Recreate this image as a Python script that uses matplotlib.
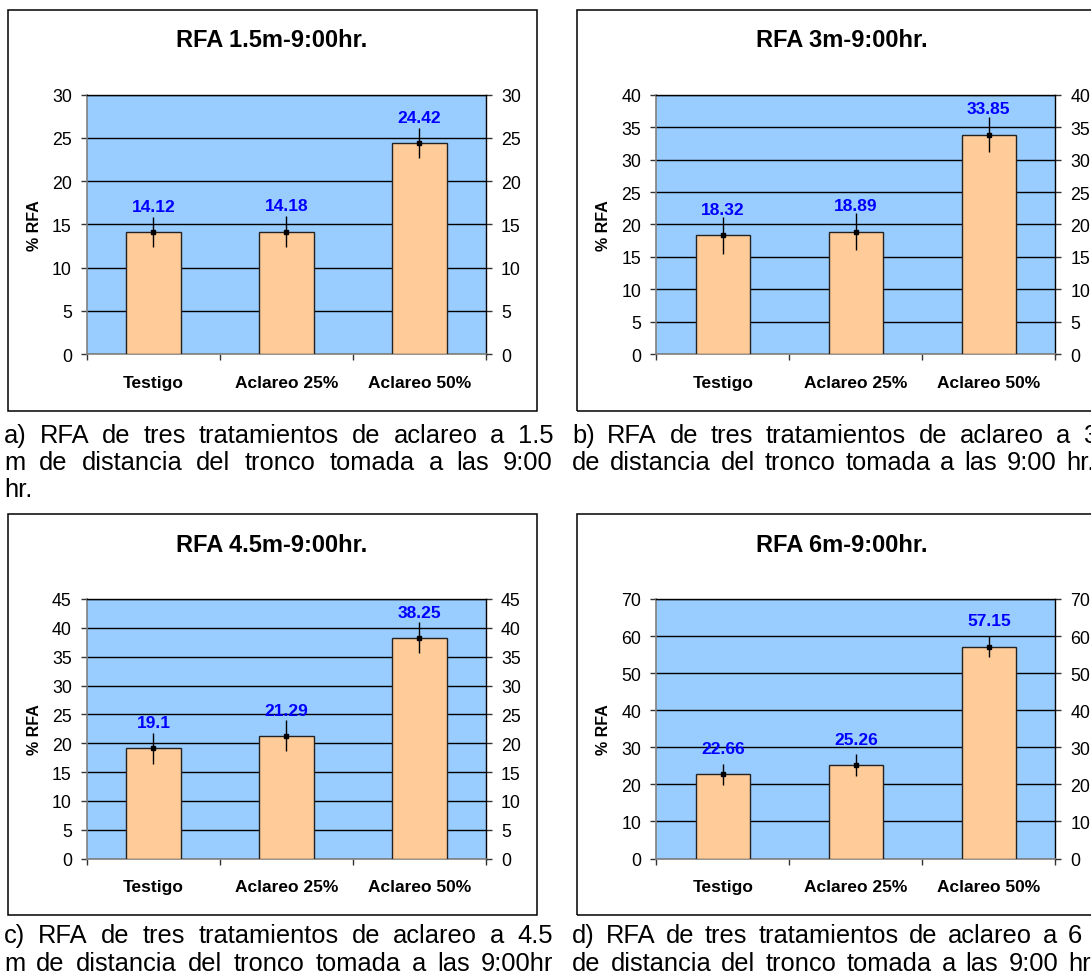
import matplotlib
matplotlib.use("Agg")
import matplotlib.pyplot as plt
from matplotlib.patches import Rectangle
from matplotlib.ticker import MultipleLocator, FixedLocator, NullFormatter

plt.rcParams['font.family'] = ['Liberation Sans', 'DejaVu Sans']

# ---- data ----
categories = ['Testigo', 'Aclareo 25%', 'Aclareo 50%']

rfa_1_5m = [14.12, 14.18, 24.42]
err_1_5m = [1.7, 1.8, 1.7]

rfa_3m = [18.32, 18.89, 33.85]
err_3m = [2.8, 2.8, 2.7]

rfa_4_5m = [19.1, 21.29, 38.25]
err_4_5m = [2.7, 2.7, 2.7]

rfa_6m = [22.66, 25.26, 57.15]
err_6m = [2.9, 3.0, 2.8]

titles = ['RFA 1.5m-9:00hr.', 'RFA 3m-9:00hr.', 'RFA 4.5m-9:00hr.', 'RFA 6m-9:00hr.']
y_max = [30, 40, 45, 70]
y_step = [5, 5, 5, 10]
y_label = '% RFA'

captions = [
    ['a) RFA de tres tratamientos de aclareo a 1.5',
     'm de distancia del tronco tomada a las 9:00',
     'hr.'],
    ['b) RFA de tres tratamientos de aclareo a 3',
     'de distancia del tronco tomada a las 9:00 hr.'],
    ['c) RFA de tres tratamientos de aclareo a 4.5',
     'm de distancia del tronco tomada a las 9:00hr'],
    ['d) RFA de tres tratamientos de aclareo a 6',
     'de distancia del tronco tomada a las 9:00 hr.'],
]

series = [(rfa_1_5m, err_1_5m), (rfa_3m, err_3m), (rfa_4_5m, err_4_5m), (rfa_6m, err_6m)]

# ---- layout (pixels, origin top-left) ----
W, H = 1091, 979
fig = plt.figure(figsize=(W / 100, H / 100), dpi=100)
fig.patch.set_facecolor('white')

box_left = [7.6, 577.0, 7.6, 577.0]
box_top = [10.7, 10.7, 515.0, 515.0]
box_w, box_h = 529.0, 401.0
plot_dx, plot_dy = 79.3, 85.0
plot_w, plot_h = 399.0, 259.5

PLOT_BG = '#99CCFF'
BAR_FC = '#FFCC99'
LABEL_BLUE = '#0000FF'


def fx(x):
    return x / W


def fy(y):
    return 1 - y / H


for i in range(4):
    bx, by = box_left[i], box_top[i]
    # chart frame
    fig.patches.append(Rectangle((fx(bx), fy(by + box_h)), box_w / W, box_h / H,
                                 transform=fig.transFigure, fill=False,
                                 edgecolor='black', linewidth=1.1))
    px, py = bx + plot_dx, by + plot_dy
    ax = fig.add_axes([fx(px), fy(py + plot_h), plot_w / W, plot_h / H])
    ax.set_facecolor(PLOT_BG)

    vals, errs = series[i]
    xpos = [k + 0.5 for k in range(len(categories))]
    ax.bar(xpos, vals, width=0.41, color=BAR_FC, edgecolor='#222222',
           linewidth=1.0, zorder=3)
    ax.errorbar(xpos, vals, yerr=errs, fmt='s', ms=3, color='black',
                ecolor='black', elinewidth=1.0, capsize=0, zorder=4)
    for x, v in zip(xpos, vals):
        ax.annotate(f'{v:g}', (x, v), xytext=(0, 18.5), textcoords='offset points',
                    ha='center', va='center', color=LABEL_BLUE,
                    fontsize=12.5, fontweight='bold', zorder=5)

    ax.set_xlim(0, 3)
    ax.set_ylim(0, y_max[i])
    ax.yaxis.set_major_locator(MultipleLocator(y_step[i]))
    ax.yaxis.grid(True, color='black', linewidth=1.0, zorder=1)
    ax.set_axisbelow(True)

    ax.xaxis.set_major_locator(FixedLocator([0, 1, 2, 3]))
    ax.xaxis.set_major_formatter(NullFormatter())
    ax.xaxis.set_minor_locator(FixedLocator(xpos))
    ax.set_xticklabels(categories, minor=True)
    ax.tick_params(axis='x', which='major', direction='out', length=6 * 0.72,
                   width=1, color='#333333')
    ax.tick_params(axis='x', which='minor', length=0, pad=15,
                   labelsize=12.5)
    for lab in ax.get_xticklabels(minor=True):
        lab.set_fontweight('bold')

    ax.tick_params(axis='y', which='major', direction='out', length=6 * 0.72,
                   width=1, left=True, right=True, labelleft=True,
                   labelright=True, labelsize=12.8, pad=6.5, color='#333333')

    for side in ['top', 'right']:
        ax.spines[side].set_color('black')
        ax.spines[side].set_linewidth(1.0)
    for side in ['left', 'bottom']:
        ax.spines[side].set_color('#808080')
        ax.spines[side].set_linewidth(1.2)

    # title and axis label placed on the chart frame
    fig.text(fx(bx + box_w / 2), fy(by + 30), titles[i], ha='center', va='center',
             fontsize=17, fontweight='bold')
    fig.text(fx(bx + 27), fy(py + plot_h / 2), y_label, rotation=90, ha='center',
             va='center', fontsize=11.5, fontweight='bold')

# ---- justified captions ----
renderer = fig.canvas.get_renderer()
CAP_SIZE = 18.4


def text_width(s):
    t = fig.text(0, 0, s, fontsize=CAP_SIZE)
    w = t.get_window_extent(renderer=renderer).width
    t.remove()
    return w


SPACE_W = text_width('a a') - text_width('aa')


def justified_line(text, x0, x1, y, mode):
    words = text.split(' ')
    objs = [fig.text(0, fy(y), w, fontsize=CAP_SIZE, va='baseline', ha='left')
            for w in words]
    widths = [o.get_window_extent(renderer=renderer).width for o in objs]
    if mode is None or len(words) == 1:
        gap = SPACE_W
    elif mode == 'right':
        gap = (x1 - x0 - sum(widths)) / (len(words) - 1)
    else:
        gap = (x1 - x0 - sum(widths[:-1])) / (len(words) - 1)
    x = x0
    for o, w in zip(objs, widths):
        o.set_x(fx(x))
        x += w + gap


cap_specs = [
    (4, 553, 'right', [443, 470, 497]),
    (572, None, 'left', [443, 470]),
    (4, 553, 'right', [943, 971]),
    (572, None, 'left', [943, 971]),
]
last_word_left = {1: [1083, 1066], 3: [1068, 1068]}

for i, (x0, x1, mode, ys) in enumerate(cap_specs):
    for j, (line, y) in enumerate(zip(captions[i], ys)):
        if i in last_word_left:
            justified_line(line, x0, last_word_left[i][j], y, 'left')
        elif j == len(captions[i]) - 1 and i == 0:
            justified_line(line, x0, None, y, None)
        else:
            justified_line(line, x0, x1, y, mode)

fig.savefig('out.png', dpi=100)
